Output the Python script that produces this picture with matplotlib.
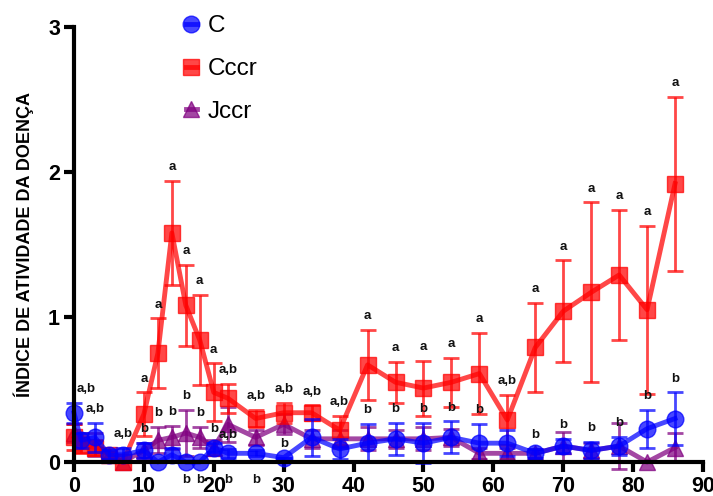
import matplotlib
matplotlib.use("Agg")
import matplotlib.pyplot as plt
from matplotlib.lines import Line2D

plt.rcParams['font.family'] = ['Liberation Sans', 'DejaVu Sans']

# days
dias = [0, 1, 3, 5, 7, 10, 12, 14, 16, 18, 20, 22, 26, 30, 34, 38, 42, 46, 50, 54, 58, 62, 66, 70, 74, 78, 82, 86]

# C
c_media = [0.34, 0.15, 0.17, 0.05, 0.05, 0.08, 0.0, 0.05, 0.0, 0.0, 0.10, 0.06, 0.06, 0.03,
           0.17, 0.09, 0.13, 0.16, 0.13, 0.17, 0.13, 0.13, 0.06, 0.11, 0.08, 0.11, 0.23, 0.30]
c_erro = [0.07, 0.05, 0.10, 0.03, 0.05, 0.05, 0.0, 0.05, 0.0, 0.0, 0.03, 0.03, 0.02, 0.0,
          0.13, 0.07, 0.13, 0.11, 0.14, 0.11, 0.13, 0.09, 0.03, 0.05, 0.06, 0.06, 0.13, 0.18]

# Cccr
cccr_media = [0.17, 0.12, 0.10, 0.05, 0.0, 0.33, 0.75, 1.58, 1.08, 0.84, 0.48, 0.44, 0.30, 0.34,
              0.34, 0.22, 0.67, 0.55, 0.51, 0.55, 0.61, 0.29, 0.79, 1.04, 1.17, 1.29, 1.05, 1.92]
cccr_erro = [0.09, 0.06, 0.05, 0.02, 0.0, 0.15, 0.24, 0.36, 0.28, 0.31, 0.20, 0.10, 0.06, 0.07,
             0.05, 0.10, 0.24, 0.14, 0.19, 0.17, 0.28, 0.17, 0.31, 0.35, 0.62, 0.45, 0.58, 0.60]

# Jccr
jccr_media = [0.20, 0.15, 0.12, 0.05, 0.0, 0.08, 0.15, 0.17, 0.20, 0.17, 0.10, 0.26, 0.17, 0.26,
              0.16, 0.16, 0.16, 0.16, 0.16, 0.17, 0.06, 0.06, 0.06, 0.11, 0.08, 0.11, 0.0, 0.10]
jccr_erro = [0.06, 0.05, 0.08, 0.02, 0.0, 0.05, 0.09, 0.08, 0.16, 0.07, 0.05, 0.12, 0.05, 0.07,
             0.06, 0.06, 0.08, 0.06, 0.08, 0.06, 0.04, 0.04, 0.03, 0.10, 0.05, 0.16, 0.0, 0.10]

# significance letters: (series, day, text, side)
letras = [
    ('Cccr', 10, 'a', 'up'), ('Cccr', 12, 'a', 'up'), ('Cccr', 14, 'a', 'up'), ('Cccr', 16, 'a', 'up'),
    ('Cccr', 18, 'a', 'up'), ('Cccr', 20, 'a', 'up'), ('Cccr', 22, 'a,b', 'up'), ('Cccr', 26, 'a,b', 'up'),
    ('Cccr', 30, 'a,b', 'up'), ('Cccr', 34, 'a,b', 'up'), ('Cccr', 38, 'a,b', 'up'), ('Cccr', 42, 'a', 'up'),
    ('Cccr', 46, 'a', 'up'), ('Cccr', 50, 'a', 'up'), ('Cccr', 54, 'a', 'up'), ('Cccr', 58, 'a', 'up'),
    ('Cccr', 62, 'a,b', 'up'), ('Cccr', 66, 'a', 'up'), ('Cccr', 70, 'a', 'up'), ('Cccr', 74, 'a', 'up'),
    ('Cccr', 78, 'a', 'up'), ('Cccr', 82, 'a', 'up'), ('Cccr', 86, 'a', 'up'),
    ('C', 0, 'a,b', 'up'), ('C', 3, 'a,b', 'up'), ('C', 7, 'a,b', 'up'), ('C', 10, 'b', 'up'),
    ('C', 16, 'b', 'down'), ('C', 18, 'b', 'down'), ('C', 20, 'b', 'up'), ('C', 22, 'a,b', 'up'),
    ('C', 22, 'b', 'down'), ('C', 26, 'b', 'down'), ('C', 30, 'b', 'up'), ('C', 42, 'b', 'up'),
    ('C', 46, 'b', 'up'), ('C', 50, 'b', 'up'), ('C', 54, 'b', 'up'), ('C', 58, 'b', 'up'),
    ('C', 66, 'b', 'up'), ('C', 70, 'b', 'up'), ('C', 74, 'b', 'up'), ('C', 78, 'b', 'up'),
    ('C', 82, 'b', 'up'), ('C', 86, 'b', 'up'),
    ('Jccr', 12, 'b', 'up'), ('Jccr', 14, 'b', 'up'), ('Jccr', 16, 'b', 'up'), ('Jccr', 18, 'b', 'up'),
]

series = {
    'C': (c_media, c_erro, 'o', '#0000ff'),
    'Cccr': (cccr_media, cccr_erro, 's', '#ff0000'),
    'Jccr': (jccr_media, jccr_erro, '^', '#800080'),
}

fig = plt.figure(figsize=(7.13, 4.96), dpi=100)
ax = fig.add_axes([0.1038, 0.0685, 0.8822, 0.8771])

ordem = {'Jccr': 2, 'Cccr': 3, 'C': 4}
for nome in ['Jccr', 'Cccr', 'C']:
    media, erro, mk, cor = series[nome]
    h = ax.errorbar(dias, media, yerr=erro, fmt='-', marker=mk, color=cor, alpha=0.72,
                    lw=3.5, ms=12, elinewidth=2, capsize=6, capthick=2,
                    zorder=ordem[nome], clip_on=False)
    for art in h.lines[1] + h.lines[2]:
        art.set_clip_on(False)

for nome, dia, txt, lado in letras:
    media, erro, mk, cor = series[nome]
    i = dias.index(dia)
    if lado == 'up':
        y = media[i] + erro[i]
        off = 10
    else:
        y = 0
        off = -13
    dx = 9 if dia == 0 else 0
    ax.annotate(txt, (dia, y), xytext=(dx, off), textcoords='offset points',
                ha='center', va='center', fontsize=9.5, fontweight='bold', color='#111111',
                annotation_clip=False, zorder=6)

ax.set_xlim(0, 90)
ax.set_ylim(0, 3)
ax.set_xticks(range(0, 91, 10))
ax.set_yticks([0, 1, 2, 3])
ax.spines['top'].set_visible(False)
ax.spines['right'].set_visible(False)
for s in ['left', 'bottom']:
    ax.spines[s].set_linewidth(3)
    ax.spines[s].set_zorder(5)
ax.tick_params(width=3, length=7, labelsize=15.5, pad=3)
for lab in ax.get_xticklabels() + ax.get_yticklabels():
    lab.set_fontweight('bold')

ax.set_ylabel('ÍNDICE DE ATIVIDADE DA DOENÇA', fontsize=13, fontweight='bold', labelpad=10)

# legend: marker with a short line through it
leg_handles = []
for nome in ['C', 'Cccr', 'Jccr']:
    media, erro, mk, cor = series[nome]
    leg_handles.append(Line2D([], [], color=cor, marker=mk, ms=12, lw=3.5, alpha=0.72))

ax.legend(leg_handles, ['C', 'Cccr', 'Jccr'],
          loc='upper left', bbox_to_anchor=(0.23, 1.013), bbox_transform=fig.transFigure,
          frameon=False, fontsize=17.5, handlelength=0.45, handletextpad=0.45,
          labelspacing=0.85)

fig.savefig('out.png', dpi=100)
